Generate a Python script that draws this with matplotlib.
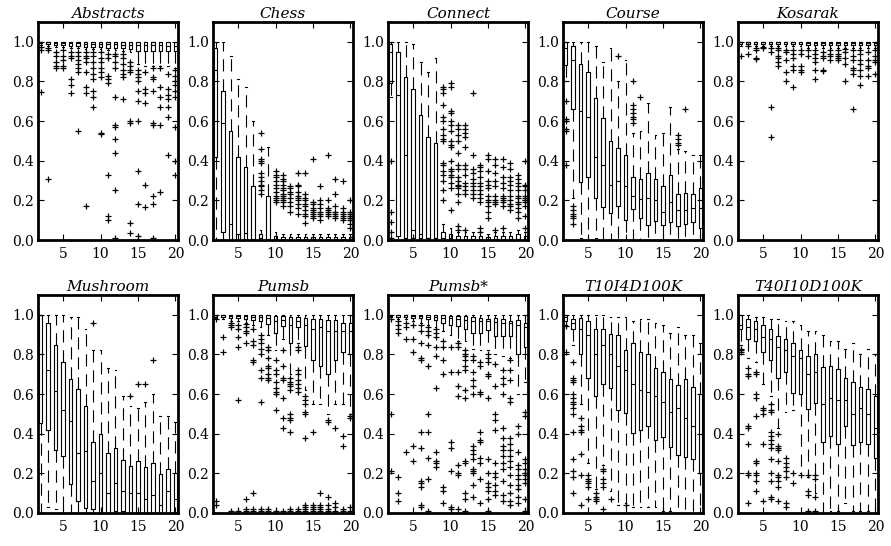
import matplotlib
matplotlib.use("Agg")
import matplotlib.pyplot as plt

plt.rcParams['font.family'] = ['DejaVu Serif']

positions = list(range(2, 21))

# ---------------- Abstracts ----------------
abstracts_q1 = [0.995, 0.99, 0.985, 0.985, 0.98, 0.98, 0.975, 0.975, 0.975, 0.97, 0.97, 0.97, 0.965,
                0.955, 0.955, 0.955, 0.955, 0.955, 0.955]
abstracts_med = [1.0, 1.0, 0.995, 0.995, 0.995, 0.995, 0.99, 0.99, 0.99, 0.99, 0.99, 0.985, 0.985,
                 0.985, 0.985, 0.985, 0.985, 0.98, 0.98]
abstracts_q3 = [1.0, 1.0, 1.0, 1.0, 1.0, 1.0, 1.0, 1.0, 1.0, 1.0, 1.0, 1.0, 1.0, 1.0, 1.0, 1.0, 1.0, 1.0, 1.0]
abstracts_lo = [0.985, 0.98, 0.975, 0.975, 0.97, 0.97, 0.965, 0.965, 0.965, 0.96, 0.96, 0.955, 0.95,
                0.89, 0.88, 0.88, 0.88, 0.88, 0.87]
abstracts_hi = [1.0, 1.0, 1.0, 1.0, 1.0, 1.0, 1.0, 1.0, 1.0, 1.0, 1.0, 1.0, 1.0, 1.0, 1.0, 1.0, 1.0, 1.0, 1.0]
abstracts_fliers = [
    [0.975, 0.96, 0.745], [0.97, 0.96, 0.31], [0.95, 0.93, 0.9, 0.88, 0.87],
    [0.96, 0.93, 0.91, 0.88, 0.87], [0.95, 0.93, 0.92, 0.81, 0.78, 0.74],
    [0.95, 0.93, 0.91, 0.89, 0.87, 0.85, 0.55], [0.95, 0.93, 0.92, 0.9, 0.85, 0.77, 0.74, 0.17],
    [0.95, 0.93, 0.9, 0.87, 0.84, 0.81, 0.75, 0.72, 0.67], [0.95, 0.92, 0.9, 0.87, 0.85, 0.82, 0.54, 0.535],
    [0.94, 0.92, 0.83, 0.81, 0.79, 0.33, 0.12, 0.1],
    [0.94, 0.93, 0.9, 0.87, 0.72, 0.58, 0.57, 0.51, 0.44, 0.25, 0.01],
    [0.94, 0.92, 0.89, 0.86, 0.84, 0.82, 0.71], [0.9, 0.88, 0.86, 0.85, 0.6, 0.59, 0.085, 0.035],
    [0.86, 0.84, 0.82, 0.8, 0.75, 0.7, 0.6, 0.35, 0.18, 0.02], [0.85, 0.76, 0.74, 0.69, 0.28, 0.165],
    [0.87, 0.82, 0.81, 0.75, 0.59, 0.58, 0.22, 0.18, 0.01], [0.87, 0.77, 0.72, 0.67, 0.58, 0.24],
    [0.84, 0.76, 0.73, 0.71, 0.67, 0.62, 0.43], [0.86, 0.83, 0.8, 0.78, 0.75, 0.72, 0.57, 0.4, 0.33],
]

# ---------------- Chess ----------------
chess_q1 = [0.42, 0.04, 0.0, 0.0, 0.0, 0.0, 0.0, 0.0, 0.0, 0.0, 0.0, 0.0, 0.0, 0.0, 0.0, 0.0, 0.0, 0.0, 0.0]
chess_med = [0.86, 0.59, 0.08, 0.03, 0.035, 0.005, 0.01, 0.005, 0.005, 0.005, 0.005, 0.005, 0.005,
             0.005, 0.005, 0.005, 0.005, 0.005, 0.005]
chess_q3 = [0.97, 0.75, 0.55, 0.42, 0.37, 0.27, 0.03, 0.22, 0.02, 0.015, 0.015, 0.015, 0.015, 0.015,
            0.015, 0.015, 0.015, 0.015, 0.015]
chess_lo = [0.0, 0.0, 0.0, 0.0, 0.0, 0.0, 0.0, 0.0, 0.0, 0.0, 0.0, 0.0, 0.0, 0.0, 0.0, 0.0, 0.0, 0.0, 0.0]
chess_hi = [1.0, 1.0, 0.93, 0.81, 0.77, 0.6, 0.05, 0.47, 0.04, 0.03, 0.03, 0.03, 0.03, 0.03, 0.03,
            0.03, 0.03, 0.03, 0.03]
chess_fliers = [
    [], [], [], [], [], [],
    [0.54, 0.46, 0.41, 0.4, 0.39, 0.34, 0.32, 0.3, 0.28, 0.27, 0.25, 0.23], [],
    [0.35, 0.33, 0.32, 0.3, 0.28, 0.26, 0.24, 0.22, 0.21, 0.2, 0.19],
    [0.33, 0.31, 0.3, 0.28, 0.26, 0.25, 0.23, 0.22, 0.21, 0.2, 0.19, 0.17],
    [0.27, 0.26, 0.24, 0.23, 0.21, 0.19, 0.17, 0.14],
    [0.34, 0.28, 0.27, 0.24, 0.22, 0.21, 0.2, 0.18, 0.16, 0.13],
    [0.34, 0.23, 0.21, 0.2, 0.18, 0.17, 0.15, 0.13, 0.12, 0.085],
    [0.41, 0.19, 0.18, 0.16, 0.15, 0.14, 0.13, 0.12, 0.11],
    [0.27, 0.2, 0.18, 0.16, 0.14, 0.13, 0.12, 0.1],
    [0.43, 0.2, 0.16, 0.15, 0.14, 0.13, 0.12],
    [0.31, 0.23, 0.17, 0.14, 0.13, 0.12, 0.11],
    [0.3, 0.16, 0.14, 0.13, 0.12, 0.11, 0.1],
    [0.2, 0.14, 0.13, 0.12, 0.11, 0.1, 0.08, 0.06],
]

# ---------------- Connect ----------------
connect_q1 = [0.79, 0.02, 0.01, 0.01, 0.01, 0.01, 0.01, 0.0, 0.0, 0.0, 0.0, 0.0, 0.0, 0.0, 0.0, 0.0,
              0.0, 0.0, 0.0]
connect_med = [0.95, 0.73, 0.43, 0.05, 0.03, 0.01, 0.01, 0.01, 0.01, 0.005, 0.005, 0.005, 0.005,
               0.005, 0.005, 0.005, 0.005, 0.005, 0.005]
connect_q3 = [0.99, 0.95, 0.82, 0.76, 0.63, 0.52, 0.49, 0.04, 0.03, 0.02, 0.02, 0.02, 0.02, 0.015,
              0.02, 0.02, 0.02, 0.03, 0.02]
connect_lo = [0.72, 0.0, 0.0, 0.0, 0.0, 0.0, 0.0, 0.0, 0.0, 0.0, 0.0, 0.0, 0.0, 0.0, 0.0, 0.0, 0.0,
              0.0, 0.0]
connect_hi = [1.0, 1.0, 1.0, 0.99, 0.9, 0.85, 0.92, 0.08, 0.06, 0.04, 0.04, 0.04, 0.04, 0.03, 0.04,
              0.04, 0.04, 0.05, 0.04]
connect_fliers = [
    [0.4, 0.14, 0.09, 0.04, 0.01], [], [], [], [], [], [],
    [0.77, 0.76, 0.74, 0.68, 0.62, 0.6, 0.56, 0.53, 0.51, 0.5, 0.39, 0.38, 0.35, 0.33, 0.3, 0.25, 0.2],
    [0.79, 0.77, 0.65, 0.64, 0.6, 0.58, 0.55, 0.5, 0.48, 0.47, 0.4, 0.36, 0.35, 0.33, 0.32, 0.29, 0.26, 0.15],
    [0.58, 0.56, 0.53, 0.5, 0.44, 0.38, 0.36, 0.32, 0.3, 0.28, 0.27, 0.26, 0.23, 0.19, 0.07, 0.05],
    [0.58, 0.56, 0.54, 0.52, 0.47, 0.38, 0.36, 0.33, 0.29, 0.27, 0.25, 0.23, 0.05],
    [0.74, 0.43, 0.36, 0.34, 0.31, 0.29, 0.27, 0.25, 0.23, 0.21],
    [0.38, 0.37, 0.35, 0.32, 0.29, 0.27, 0.25, 0.23, 0.21, 0.19, 0.06, 0.04],
    [0.43, 0.41, 0.35, 0.3, 0.28, 0.26, 0.22, 0.2, 0.19, 0.17, 0.14, 0.11],
    [0.41, 0.38, 0.34, 0.3, 0.27, 0.22, 0.2, 0.19, 0.18, 0.05],
    [0.41, 0.37, 0.32, 0.29, 0.26, 0.22, 0.21, 0.2, 0.19, 0.17, 0.06],
    [0.39, 0.36, 0.32, 0.3, 0.28, 0.25, 0.22, 0.2, 0.18, 0.17, 0.15],
    [0.33, 0.31, 0.29, 0.27, 0.25, 0.22, 0.21, 0.19, 0.18, 0.16, 0.14, 0.11],
    [0.4, 0.28, 0.27, 0.25, 0.22, 0.21, 0.2, 0.19, 0.17, 0.12, 0.06],
]

# ---------------- Course ----------------
course_q1 = [0.885, 0.66, 0.295, 0.32, 0.21, 0.165, 0.135, 0.17, 0.1, 0.155, 0.11, 0.075, 0.095,
             0.075, 0.09, 0.07, 0.08, 0.09, 0.06]
course_med = [0.97, 0.91, 0.65, 0.62, 0.42, 0.38, 0.28, 0.3, 0.27, 0.22, 0.205, 0.21, 0.2, 0.14,
              0.19, 0.15, 0.15, 0.16, 0.16]
course_q3 = [1.0, 0.98, 0.89, 0.85, 0.715, 0.615, 0.5, 0.465, 0.43, 0.32, 0.31, 0.34, 0.31, 0.275,
             0.33, 0.23, 0.235, 0.23, 0.26]
course_lo = [0.8, 0.21, 0.01, 0.0, 0.01, 0.0, 0.0, 0.0, 0.0, 0.0, 0.0, 0.0, 0.0, 0.0, 0.0, 0.0, 0.0,
             0.0, 0.0]
course_hi = [1.0, 1.0, 1.0, 1.0, 0.98, 0.9, 0.97, 0.8, 0.91, 0.54, 0.55, 0.69, 0.53, 0.54, 0.67,
             0.46, 0.45, 0.43, 0.43]
course_fliers = [
    [0.7, 0.61, 0.6, 0.56, 0.55, 0.38], [0.17, 0.15, 0.13, 0.12, 0.11, 0.08], [], [], [], [], [],
    [0.93], [], [0.8, 0.68, 0.66, 0.64, 0.62, 0.61, 0.59], [0.72], [], [], [], [],
    [0.53, 0.51, 0.49, 0.48], [0.66], [], [],
]

# ---------------- Kosarak ----------------
kosarak_q1 = [0.99, 0.99, 0.99, 0.99, 0.99, 0.99, 0.99, 0.99, 0.99, 0.985, 0.985, 0.985, 0.985,
              0.985, 0.985, 0.985, 0.985, 0.985, 0.985]
kosarak_med = [1.0, 1.0, 1.0, 1.0, 1.0, 1.0, 1.0, 1.0, 1.0, 0.995, 0.995, 0.995, 0.995, 0.995,
               0.995, 0.995, 0.995, 0.995, 0.995]
kosarak_q3 = [1.0, 1.0, 1.0, 1.0, 1.0, 1.0, 1.0, 1.0, 1.0, 1.0, 1.0, 1.0, 1.0, 1.0, 1.0, 1.0, 1.0, 1.0, 1.0]
kosarak_lo = [0.98, 0.98, 0.98, 0.98, 0.98, 0.98, 0.98, 0.98, 0.98, 0.97, 0.97, 0.97, 0.97, 0.97,
              0.97, 0.97, 0.97, 0.97, 0.97]
kosarak_hi = [1.0, 1.0, 1.0, 1.0, 1.0, 1.0, 1.0, 1.0, 1.0, 1.0, 1.0, 1.0, 1.0, 1.0, 1.0, 1.0, 1.0, 1.0, 1.0]
kosarak_fliers = [
    [0.93], [0.98, 0.94], [0.97, 0.96, 0.92, 0.915], [0.975, 0.97], [0.97, 0.95, 0.67, 0.52],
    [0.97, 0.96, 0.93, 0.92, 0.9, 0.88], [0.96, 0.95, 0.91, 0.85, 0.8],
    [0.96, 0.94, 0.92, 0.88, 0.86, 0.77], [0.96, 0.94, 0.88, 0.86, 0.85], [0.96, 0.93],
    [0.96, 0.94, 0.92, 0.9, 0.86, 0.81], [0.95, 0.93, 0.92, 0.86, 0.855], [0.96, 0.94, 0.93, 0.91],
    [0.96, 0.94, 0.93, 0.92, 0.91], [0.965, 0.95, 0.92, 0.89, 0.8],
    [0.96, 0.93, 0.91, 0.87, 0.86, 0.84, 0.66], [0.96, 0.94, 0.91, 0.89, 0.86, 0.83, 0.78],
    [0.95, 0.91, 0.88, 0.87, 0.83], [0.96, 0.93, 0.91, 0.9, 0.84],
]

# ---------------- Mushroom ----------------
mushroom_q1 = [0.455, 0.42, 0.32, 0.29, 0.145, 0.06, 0.025, 0.02, 0.0, 0.0, 0.01, 0.01, 0.0, 0.0,
               0.0, 0.0, 0.0, 0.0, 0.0]
mushroom_med = [0.8, 0.72, 0.615, 0.52, 0.465, 0.305, 0.315, 0.16, 0.2, 0.1, 0.15, 0.11, 0.1, 0.1,
                0.07, 0.09, 0.04, 0.11, 0.07]
mushroom_q3 = [1.0, 0.96, 0.85, 0.76, 0.675, 0.625, 0.54, 0.36, 0.4, 0.305, 0.33, 0.265, 0.235,
               0.26, 0.23, 0.25, 0.195, 0.22, 0.2]
mushroom_lo = [0.0, 0.03, 0.02, 0.0, 0.0, 0.0, 0.0, 0.0, 0.0, 0.0, 0.0, 0.0, 0.0, 0.0, 0.0, 0.0, 0.0,
               0.0, 0.0]
mushroom_hi = [1.0, 1.0, 1.0, 1.0, 0.99, 0.99, 0.93, 0.82, 0.82, 0.73, 0.72, 0.59, 0.54, 0.53, 0.56,
               0.6, 0.49, 0.49, 0.46]
mushroom_fliers = [[], [], [], [], [], [], [], [0.96], [], [], [], [], [0.59], [0.65], [0.65], [0.77],
                   [], [], []]

# ---------------- Pumsb ----------------
pumsb_q1 = [0.99, 0.99, 0.985, 0.985, 0.98, 0.975, 0.97, 0.955, 0.91, 0.945, 0.86, 0.94, 0.845, 0.77,
            0.74, 0.7, 0.77, 0.81, 0.8]
pumsb_med = [1.0, 1.0, 0.995, 0.995, 0.995, 0.99, 0.99, 0.985, 0.97, 0.975, 0.95, 0.97, 0.95, 0.93,
             0.94, 0.92, 0.92, 0.92, 0.92]
pumsb_q3 = [1.0, 1.0, 1.0, 1.0, 1.0, 1.0, 1.0, 1.0, 0.995, 0.995, 0.99, 0.99, 0.985, 0.98, 0.98,
            0.975, 0.975, 0.96, 0.96]
pumsb_lo = [0.985, 0.98, 0.97, 0.97, 0.96, 0.95, 0.94, 0.9, 0.82, 0.88, 0.7, 0.86, 0.62, 0.55, 0.55,
            0.5, 0.55, 0.55, 0.5]
pumsb_hi = [1.0, 1.0, 1.0, 1.0, 1.0, 1.0, 1.0, 1.0, 1.0, 1.0, 1.0, 1.0, 1.0, 1.0, 1.0, 1.0, 1.0, 1.0, 1.0]
pumsb_fliers = [
    [0.98, 0.06, 0.04], [0.89, 0.81], [0.96, 0.95, 0.94, 0.01], [0.95, 0.93, 0.89, 0.84, 0.57, 0.01],
    [0.955, 0.94, 0.92, 0.91, 0.86, 0.07, 0.02, 0.01], [0.93, 0.87, 0.85, 0.77, 0.76, 0.1, 0.02, 0.01],
    [0.9, 0.88, 0.86, 0.83, 0.8, 0.72, 0.68, 0.56, 0.02, 0.01],
    [0.84, 0.82, 0.78, 0.74, 0.73, 0.7, 0.68, 0.67, 0.02, 0.01],
    [0.77, 0.72, 0.7, 0.66, 0.63, 0.61, 0.6, 0.52, 0.01], [0.82, 0.74, 0.68, 0.67, 0.58, 0.48, 0.43, 0.01],
    [0.68, 0.66, 0.65, 0.64, 0.62, 0.5, 0.48, 0.47, 0.41, 0.02, 0.01],
    [0.84, 0.82, 0.72, 0.7, 0.67, 0.65, 0.63, 0.61, 0.02, 0.01],
    [0.59, 0.57, 0.55, 0.51, 0.5, 0.38, 0.04, 0.03, 0.02, 0.01], [0.41, 0.04, 0.03, 0.02, 0.01],
    [0.1, 0.04, 0.03, 0.02, 0.01], [0.47, 0.46, 0.08, 0.04, 0.02, 0.01], [0.43, 0.05, 0.03, 0.01],
    [0.39, 0.34, 0.02, 0.01], [0.49, 0.48, 0.03, 0.01],
]

# ---------------- Pumsb* ----------------
pumsbs_q1 = [0.995, 0.99, 0.99, 0.985, 0.985, 0.98, 0.975, 0.96, 0.95, 0.945, 0.93, 0.91, 0.91, 0.925,
             0.895, 0.895, 0.895, 0.8, 0.84]
pumsbs_med = [1.0, 1.0, 1.0, 0.995, 0.995, 0.99, 0.99, 0.985, 0.985, 0.98, 0.975, 0.97, 0.97, 0.97,
              0.965, 0.96, 0.96, 0.95, 0.94]
pumsbs_q3 = [1.0, 1.0, 1.0, 1.0, 1.0, 1.0, 1.0, 1.0, 0.995, 0.995, 0.995, 0.99, 0.985, 0.98, 0.985,
             0.98, 0.97, 0.975, 0.96]
pumsbs_lo = [0.99, 0.98, 0.98, 0.97, 0.96, 0.95, 0.94, 0.92, 0.9, 0.87, 0.87, 0.83, 0.82, 0.82, 0.8,
             0.79, 0.78, 0.6, 0.66]
pumsbs_hi = [1.0, 1.0, 1.0, 1.0, 1.0, 1.0, 1.0, 1.0, 1.0, 1.0, 1.0, 1.0, 1.0, 1.0, 1.0, 1.0, 1.0, 1.0, 1.0]
pumsbs_fliers = [
    [0.98, 0.5, 0.21], [0.97, 0.95, 0.93, 0.91, 0.18, 0.1, 0.06], [0.96, 0.94, 0.88, 0.31],
    [0.95, 0.88, 0.81, 0.34, 0.26], [0.95, 0.92, 0.86, 0.78, 0.77, 0.41, 0.33, 0.16, 0.15, 0.13, 0.04, 0.03],
    [0.94, 0.92, 0.9, 0.85, 0.74, 0.5, 0.41, 0.28, 0.17, 0.01],
    [0.93, 0.91, 0.89, 0.84, 0.79, 0.63, 0.31, 0.26, 0.25, 0.23], [0.87, 0.84, 0.77, 0.7, 0.13, 0.11, 0.05],
    [0.84, 0.71, 0.36, 0.33, 0.21, 0.03, 0.02], [0.86, 0.84, 0.71, 0.64, 0.59, 0.24, 0.2, 0.19, 0.02],
    [0.82, 0.8, 0.79, 0.77, 0.74, 0.72, 0.62, 0.58, 0.26, 0.25, 0.1, 0.07, 0.01],
    [0.79, 0.77, 0.71, 0.67, 0.64, 0.6, 0.34, 0.32, 0.3, 0.27, 0.22, 0.21, 0.2, 0.14, 0.08],
    [0.76, 0.74, 0.61, 0.6, 0.41, 0.37, 0.36, 0.28, 0.25, 0.17, 0.05],
    [0.8, 0.78, 0.76, 0.7, 0.69, 0.58, 0.27, 0.2, 0.15, 0.13, 0.11, 0.07, 0.01],
    [0.75, 0.64, 0.5, 0.47, 0.42, 0.25, 0.2, 0.18, 0.14, 0.11, 0.09],
    [0.72, 0.68, 0.65, 0.6, 0.43, 0.38, 0.34, 0.32, 0.29, 0.25, 0.22, 0.16, 0.09, 0.06],
    [0.77, 0.72, 0.67, 0.58, 0.56, 0.38, 0.35, 0.32, 0.29, 0.26, 0.23, 0.19, 0.14, 0.1, 0.06, 0.04],
    [0.44, 0.4, 0.31, 0.24, 0.22, 0.19, 0.17, 0.14, 0.12, 0.08, 0.05],
    [0.51, 0.49, 0.27, 0.25, 0.22, 0.2, 0.19, 0.17, 0.15, 0.07, 0.01],
]

# ---------------- T10I4D100K ----------------
t10_q1 = [0.97, 0.93, 0.8, 0.68, 0.59, 0.65, 0.63, 0.52, 0.505, 0.405, 0.42, 0.44, 0.37, 0.385, 0.335,
          0.295, 0.285, 0.27, 0.2]
t10_med = [0.99, 0.96, 0.93, 0.9, 0.8, 0.85, 0.8, 0.74, 0.72, 0.65, 0.62, 0.61, 0.59, 0.56, 0.51, 0.53,
           0.48, 0.44, 0.4]
t10_q3 = [1.0, 0.98, 0.985, 0.97, 0.93, 0.93, 0.905, 0.9, 0.82, 0.86, 0.81, 0.8, 0.73, 0.71, 0.675,
          0.645, 0.675, 0.635, 0.6]
t10_lo = [0.95, 0.85, 0.55, 0.25, 0.12, 0.24, 0.11, 0.04, 0.05, 0.03, 0.03, 0.03, 0.03, 0.01, 0.01,
          0.0, 0.0, 0.0, 0.0]
t10_hi = [1.0, 1.0, 1.0, 1.0, 1.0, 1.0, 0.99, 0.99, 0.99, 0.97, 0.98, 0.98, 0.96, 0.95, 0.91, 0.94,
          0.9, 0.9, 0.86]
t10_fliers = [
    [0.945, 0.81], [0.76, 0.68, 0.67, 0.66, 0.6, 0.58, 0.56, 0.55, 0.53, 0.5, 0.41, 0.27, 0.21, 0.18, 0.1],
    [0.48, 0.44, 0.42, 0.41, 0.3, 0.19, 0.04], [0.19, 0.17, 0.16, 0.15, 0.13, 0.07], [0.1, 0.08, 0.07, 0.06],
    [0.22, 0.21, 0.17, 0.15, 0.13, 0.02], [0.07], [], [0.04], [], [], [], [], [], [], [], [], [], [],
]

# ---------------- T40I10D100K ----------------
t40_q1 = [0.93, 0.88, 0.87, 0.81, 0.77, 0.68, 0.71, 0.605, 0.6, 0.525, 0.555, 0.36, 0.39, 0.35, 0.44,
          0.345, 0.36, 0.35, 0.28]
t40_med = [0.95, 0.94, 0.93, 0.89, 0.88, 0.84, 0.82, 0.79, 0.78, 0.7, 0.71, 0.55, 0.58, 0.57, 0.57,
           0.5, 0.53, 0.5, 0.43]
t40_q3 = [1.0, 0.98, 0.97, 0.95, 0.93, 0.895, 0.88, 0.86, 0.825, 0.79, 0.8, 0.735, 0.74, 0.725, 0.68,
          0.66, 0.635, 0.625, 0.59]
t40_lo = [0.85, 0.78, 0.76, 0.65, 0.59, 0.43, 0.51, 0.52, 0.2, 0.18, 0.1, 0.0, 0.01, 0.01, 0.05, 0.01,
          0.01, 0.01, 0.0]
t40_hi = [1.0, 1.0, 0.99, 0.99, 0.98, 0.98, 0.97, 0.97, 0.95, 0.92, 0.92, 0.9, 0.87, 0.87, 0.83, 0.86,
          0.8, 0.83, 0.8]
t40_fliers = [
    [0.83, 0.82, 0.81], [0.73, 0.7, 0.69, 0.44, 0.43, 0.35, 0.2, 0.19, 0.05],
    [0.71, 0.7, 0.6, 0.58, 0.49, 0.26, 0.25, 0.2, 0.19, 0.16, 0.11], [0.53, 0.52, 0.5, 0.35, 0.06],
    [0.55, 0.52, 0.51, 0.41, 0.39, 0.37, 0.35, 0.33, 0.27, 0.2, 0.16, 0.08, 0.07],
    [0.4, 0.34, 0.33, 0.32, 0.26, 0.19, 0.18, 0.16, 0.13, 0.06],
    [0.28, 0.25, 0.23, 0.21, 0.18, 0.05, 0.03], [0.2, 0.15], [0.19], [0.19, 0.11, 0.09, 0.01],
    [0.19, 0.17, 0.08, 0.01], [], [], [], [], [], [], [], [],
]

panels = [
    ("Abstracts", abstracts_q1, abstracts_med, abstracts_q3, abstracts_lo, abstracts_hi, abstracts_fliers),
    ("Chess", chess_q1, chess_med, chess_q3, chess_lo, chess_hi, chess_fliers),
    ("Connect", connect_q1, connect_med, connect_q3, connect_lo, connect_hi, connect_fliers),
    ("Course", course_q1, course_med, course_q3, course_lo, course_hi, course_fliers),
    ("Kosarak", kosarak_q1, kosarak_med, kosarak_q3, kosarak_lo, kosarak_hi, kosarak_fliers),
    ("Mushroom", mushroom_q1, mushroom_med, mushroom_q3, mushroom_lo, mushroom_hi, mushroom_fliers),
    ("Pumsb", pumsb_q1, pumsb_med, pumsb_q3, pumsb_lo, pumsb_hi, pumsb_fliers),
    ("Pumsb*", pumsbs_q1, pumsbs_med, pumsbs_q3, pumsbs_lo, pumsbs_hi, pumsbs_fliers),
    ("T10I4D100K", t10_q1, t10_med, t10_q3, t10_lo, t10_hi, t10_fliers),
    ("T40I10D100K", t40_q1, t40_med, t40_q3, t40_lo, t40_hi, t40_fliers),
]


def make_stats(q1, med, q3, lo, hi, fliers):
    stats = []
    for a, b, c, d, e, f in zip(q1, med, q3, lo, hi, fliers):
        stats.append(dict(q1=a, med=b, q3=c, whislo=d, whishi=e, fliers=f))
    return stats


fig = plt.figure(figsize=(8.91, 5.46), dpi=100)

W, H = 891.0, 546.0
col_left = [38, 213, 388, 563, 738]
row_top = [22, 295]
ax_w, ax_h = 140, 218

for i, (name, q1, med, q3, lo, hi, fl) in enumerate(panels):
    r, c = divmod(i, 5)
    ax = fig.add_axes([col_left[c] / W, 1 - (row_top[r] + ax_h) / H, ax_w / W, ax_h / H])
    ax.bxp(make_stats(q1, med, q3, lo, hi, fl), positions=positions, widths=0.5,
           boxprops=dict(color='k', linewidth=0.8),
           whiskerprops=dict(color='k', linewidth=0.8, linestyle=(0, (11, 7))),
           capprops=dict(color='k', linewidth=0.8),
           medianprops=dict(color='k', linewidth=0.8),
           flierprops=dict(marker='+', markeredgecolor='k', markersize=5, markeredgewidth=0.9,
                           linestyle='none'),
           manage_ticks=False)
    ax.set_xlim(1.65, 20.35)
    ax.set_ylim(0, 1.1)
    ax.set_xticks([5, 10, 15, 20])
    ax.set_yticks([0.0, 0.2, 0.4, 0.6, 0.8, 1.0])
    ax.set_yticklabels(['0.0', '0.2', '0.4', '0.6', '0.8', '1.0'])
    ax.tick_params(direction='in', top=True, right=True, length=4, width=0.8, labelsize=10)
    ax.tick_params(axis='x', pad=5)
    ax.tick_params(axis='y', pad=3)
    for s in ax.spines.values():
        s.set_linewidth(2)
    ax.set_title(name, fontstyle='italic', fontsize=11, pad=3)

fig.savefig("out.png", dpi=100)
